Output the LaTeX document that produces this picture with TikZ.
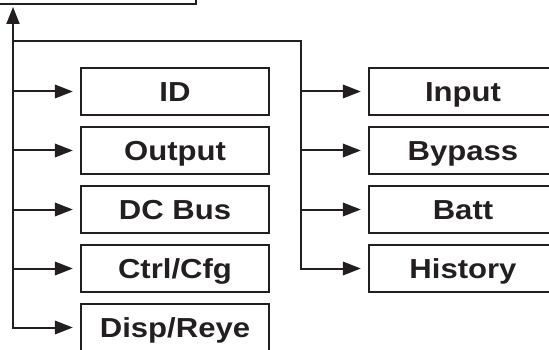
\documentclass[tikz,border=0pt]{standalone}
\usepackage{fontspec}
\setmainfont{Liberation Sans}
\usepackage{graphicx}
\usetikzlibrary{arrows.meta}
\definecolor{ink}{HTML}{231F20}
\tikzset{
  menubox/.style = {draw = ink, line width = 2.3pt, minimum width = 188pt, minimum height = 47pt,
    inner sep = 0pt, text height = 19.5pt, text depth = 0pt,
    font = \fontsize{27.5}{30}\selectfont\bfseries, text = ink},
  wire/.style = {draw = ink, line width = 2pt},
  tip/.style = {-{Triangle[length = 18pt, width = 13.5pt]}, shorten >= 7pt}
}
\newcommand{\wide}[1]{\scalebox{1.13}[1]{#1}}

\begin{document}
\begin{tikzpicture}[x = 1pt, y = -1pt]
\useasboundingbox (0,0) rectangle (549,350);
\clip (0,0) rectangle (549,350);
\node[menubox, minimum width = 270pt, minimum height = 70pt, anchor = south east] (top) at (197,5) {};
\node[menubox] (id)   at (175, 91.5)  {\wide{ID}};
\node[menubox] (out)  at (175, 150.5) {\wide{Output}};
\node[menubox] (dc)   at (175, 209.5) {\wide{DC Bus}};
\node[menubox] (ctrl) at (175, 268.5) {\wide{Ctrl/Cfg}};
\node[menubox] (disp) at (175, 327.5) {\wide{Disp/Reye}};
\node[menubox] (in)   at (463, 91.5)  {\wide{Input}};
\node[menubox] (byp)  at (463, 150.5) {\wide{Bypass}};
\node[menubox] (batt) at (463, 209.5) {\wide{Batt}};
\node[menubox] (hist) at (463, 268.5) {\wide{History}};
\coordinate (lbus) at (13,41);
\coordinate (rbus) at (301,41);
\draw[wire, {Triangle[length = 17pt, width = 13pt]}-{Triangle[length = 18pt, width = 13.5pt]}, shorten <= 2pt, shorten >= 7pt]
  (top.south -| lbus) -- (lbus |- disp) -- (disp.west);
\foreach \n in {id, out, dc, ctrl}
\draw[wire, tip] (lbus |- \n) -- (\n.west);
\draw[wire, tip] (lbus) -- (rbus) -- (rbus |- hist) -- (hist.west);
\foreach \n in {in, byp, batt}
\draw[wire, tip] (rbus |- \n) -- (\n.west);
\end{tikzpicture}
\end{document}
